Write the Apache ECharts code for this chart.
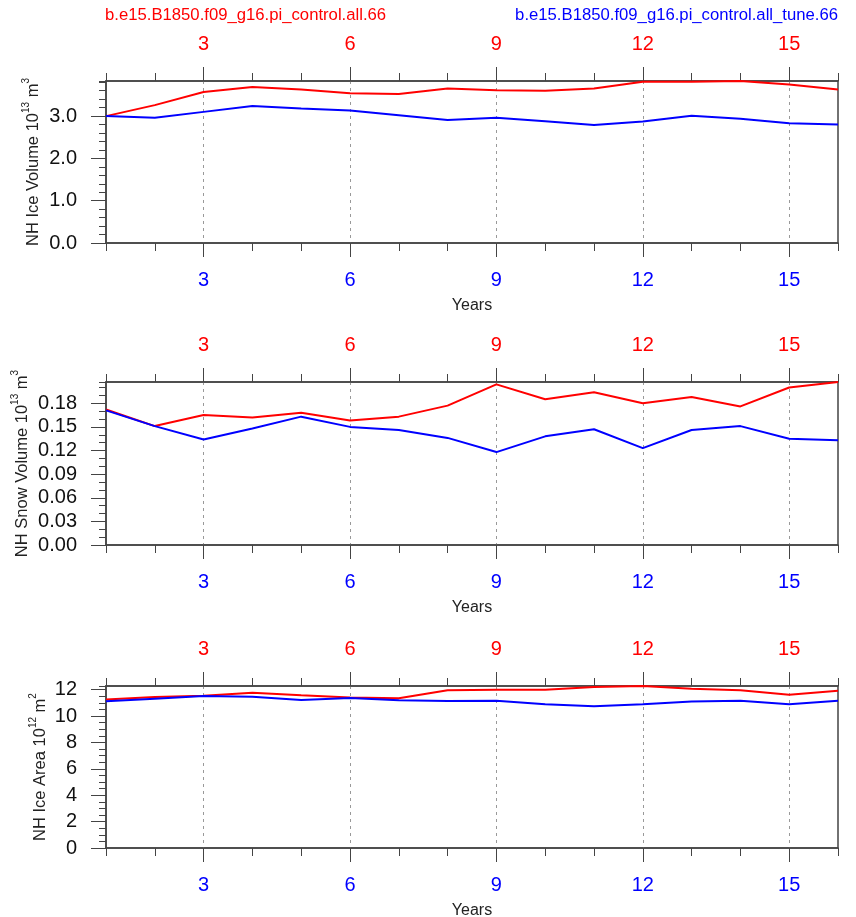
<!DOCTYPE html>
<html><head><meta charset="utf-8">
<script src="https://cdn.jsdelivr.net/npm/echarts@6/dist/echarts.min.js"></script>
<style>html,body{margin:0;padding:0;background:#fff}#c{width:856px;height:917px}</style>
</head><body><div id="c"></div>
<script>
// ---- data ----
const years = [1,2,3,4,5,6,7,8,9,10,11,12,13,14,15,16];
const xMajorTicks = [3,6,9,12,15];
const titleRed = 'b.e15.B1850.f09_g16.pi_control.all.66';
const titleBlue = 'b.e15.B1850.f09_g16.pi_control.all_tune.66';

const iceVolRed  = [3.00,3.26,3.57,3.69,3.63,3.54,3.52,3.65,3.61,3.60,3.65,3.81,3.81,3.83,3.75,3.63];
const iceVolBlue = [3.00,2.96,3.10,3.24,3.18,3.13,3.02,2.91,2.96,2.88,2.79,2.87,3.01,2.94,2.83,2.80];

const snowVolRed  = [0.172,0.151,0.165,0.162,0.168,0.158,0.163,0.177,0.204,0.185,0.194,0.180,0.188,0.176,0.200,0.207];
const snowVolBlue = [0.171,0.151,0.134,0.148,0.163,0.150,0.146,0.136,0.118,0.138,0.147,0.123,0.146,0.151,0.135,0.133];

const iceAreaRed  = [11.25,11.45,11.55,11.77,11.57,11.40,11.35,11.95,12.00,12.00,12.20,12.28,12.08,11.95,11.62,11.92];
const iceAreaBlue = [11.12,11.32,11.52,11.47,11.22,11.37,11.20,11.15,11.17,10.90,10.74,10.90,11.10,11.17,10.90,11.17];

const panelNames = [
  ['NH Ice Volume 10','13',' m','3'],
  ['NH Snow Volume 10','13',' m','3'],
  ['NH Ice Area 10','12',' m','2']
];
const yInterval = [1.0, 0.03, 2];
const yMinor = [0.2, 0.01, 0.5];
const yDecimals = [1, 2, 0];

// ---- layout ----
const grids = [
  {left:106, right:18, top:81, height:162},
  {left:106, right:18, top:382, height:163},
  {left:106, right:18, top:686, height:162}
];
const nameGaps = [61, 72, 54];
const panels = [[iceVolRed, iceVolBlue],[snowVolRed, snowVolBlue],[iceAreaRed, iceAreaBlue]];

const FONT = 'Liberation Sans, Arial, Helvetica, sans-serif';
const AX = '#444';
const isMajor = (i, v) => xMajorTicks.includes(Number(v));

const xAxis = [], yAxis = [], series = [];
grids.forEach((g, gi) => {
  const base = {gridIndex: gi, type:'category', data: years.map(String), boundaryGap:false};
  xAxis.push(Object.assign({}, base, {position:'bottom',
    axisLine:{show:true, lineStyle:{color:AX, width:1.5}},
    axisTick:{show:true, interval:0, length:8, lineStyle:{color:AX, width:1}},
    axisLabel:{show:false}, splitLine:{show:false}}));
  const bottomMajorIdx = xAxis.length;
  xAxis.push(Object.assign({}, base, {position:'bottom',
    axisLine:{show:false},
    axisTick:{show:true, interval:isMajor, length:14, lineStyle:{color:AX, width:1}},
    axisLabel:{show:true, interval:isMajor, color:'#0000ff', fontSize:20, fontFamily:FONT, margin:27},
    splitLine:{show:true, interval:isMajor, lineStyle:{color:'#999', type:[3,4], width:1}},
    name:'Years', nameLocation:'middle', nameGap:55, nameMoveOverlap:false,
    nameTextStyle:{color:'#222', fontSize:16, fontFamily:FONT}}));
  xAxis.push(Object.assign({}, base, {position:'top',
    axisLine:{show:true, lineStyle:{color:AX, width:1.5}},
    axisTick:{show:true, interval:0, length:8, lineStyle:{color:AX, width:1}},
    axisLabel:{show:false}, splitLine:{show:false}}));
  xAxis.push(Object.assign({}, base, {position:'top',
    axisLine:{show:false},
    axisTick:{show:true, interval:isMajor, length:14, lineStyle:{color:AX, width:1}},
    axisLabel:{show:true, interval:isMajor, color:'#ff0000', fontSize:20, fontFamily:FONT, margin:27},
    splitLine:{show:false}}));

  const [red, blue] = panels[gi];
  const ymax = Math.max(...red, ...blue);
  const nm = panelNames[gi];
  const majorIdx = yAxis.length;
  yAxis.push({gridIndex:gi, type:'value', min:0, max:ymax, interval:yInterval[gi], position:'left',
    axisLine:{show:true, lineStyle:{color:AX, width:1.5}},
    axisTick:{show:true, length:15, lineStyle:{color:AX, width:1}},
    axisLabel:{show:true, showMaxLabel:false, color:'#111', fontSize:20, fontFamily:FONT, margin:29,
      formatter: v => Number(v).toFixed(yDecimals[gi])},
    splitLine:{show:false},
    name:'{t|'+nm[0]+'}{s|'+nm[1]+'}{t|'+nm[2]+'}{s|'+nm[3]+'}',
    nameLocation:'middle', nameGap:nameGaps[gi], nameRotate:90, nameMoveOverlap:false,
    nameTextStyle:{color:'#222', fontFamily:FONT,
      rich:{t:{fontSize:16.5, lineHeight:24, verticalAlign:'middle', color:'#222', fontFamily:FONT},
            s:{fontSize:10, lineHeight:8, verticalAlign:'top', color:'#222', fontFamily:FONT}}}});
  yAxis.push({gridIndex:gi, type:'value', min:0, max:ymax, interval:yMinor[gi], position:'left',
    axisLine:{show:false},
    axisTick:{show:true, length:7, lineStyle:{color:AX, width:1}},
    axisLabel:{show:false}, splitLine:{show:false}});

  series.push({type:'line', xAxisIndex:bottomMajorIdx, yAxisIndex:majorIdx, data:red, symbol:'none',
    lineStyle:{color:'#ff0000', width:2}, itemStyle:{color:'#ff0000'}, z:3, animation:false});
  series.push({type:'line', xAxisIndex:bottomMajorIdx, yAxisIndex:majorIdx, data:blue, symbol:'none',
    lineStyle:{color:'#0000ff', width:2}, itemStyle:{color:'#0000ff'}, z:3, animation:false});
});

const chart = echarts.init(document.getElementById('c'), null, {renderer:'canvas'});
chart.setOption({
  animation:false,
  backgroundColor:'#fff',
  title:[
    {text:titleRed, left:105, top:7, padding:0, textStyle:{color:'#ff0000', fontSize:16.7, fontWeight:'normal', fontFamily:FONT}},
    {text:titleBlue, right:18, top:7, padding:0, textStyle:{color:'#0000ff', fontSize:16.7, fontWeight:'normal', fontFamily:FONT}}
  ],
  grid: grids.map(g => Object.assign({show:true, borderColor:AX, borderWidth:1.5, backgroundColor:'transparent', containLabel:false, outerBoundsMode:'none'}, g)),
  xAxis, yAxis, series
});
</script></body></html>
